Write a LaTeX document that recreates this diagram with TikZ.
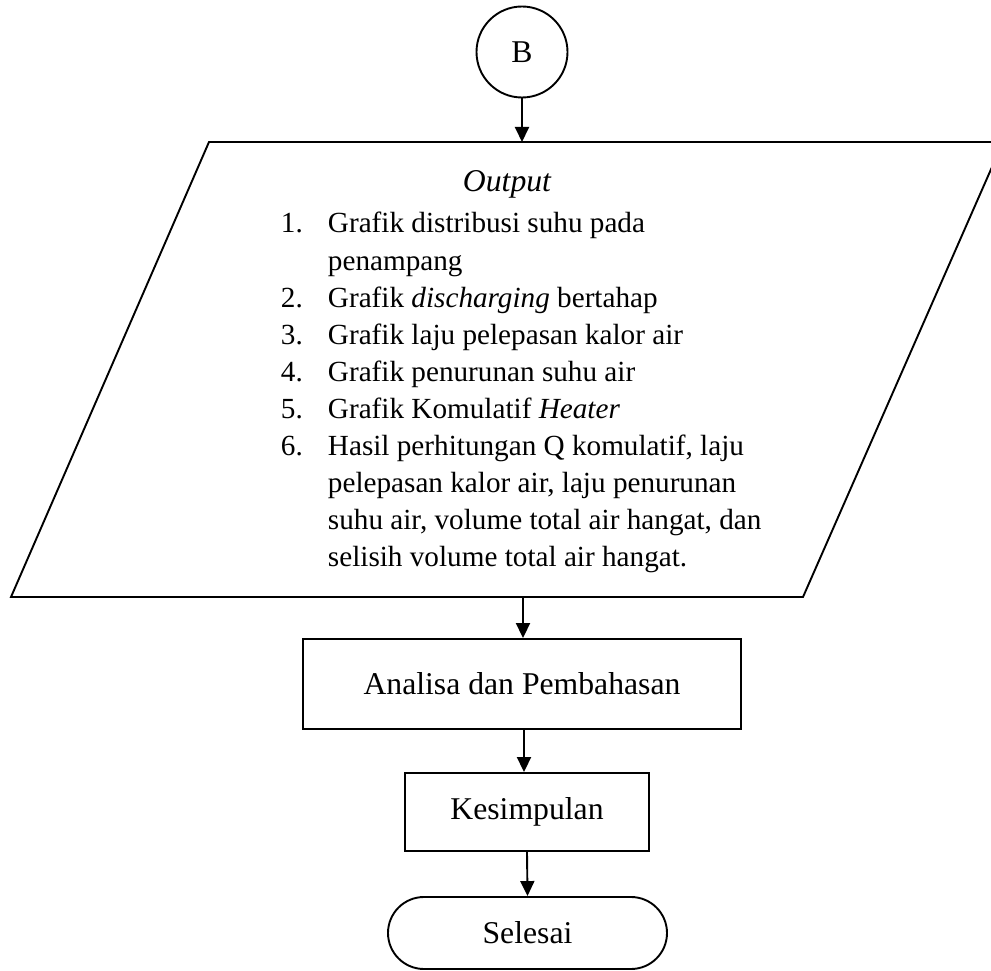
\documentclass[tikz,border=0pt]{standalone}
\usepackage{fontspec}
\setmainfont{Liberation Serif}
\usetikzlibrary{arrows.meta}
\begin{document}
\begin{tikzpicture}[x=1pt,y=-1pt,
  line width=1.9pt,
  arr/.style={-{Triangle[length=15pt,width=14pt]}},
  boxtxt/.style={font=\fontsize{31.7}{38}\selectfont},
  listtxt/.style={font=\fontsize{29.2}{37}\selectfont, inner sep=0pt, anchor=base west},
  procbox/.style={draw, rectangle, boxtxt, inner sep=0pt},
]
\useasboundingbox (0,0) rectangle (991,971);
% connector B
\node[draw, circle, minimum size=91pt, inner sep=0pt, boxtxt] (B) at (522,52) {B};
% parallelogram
\begin{scope}
\clip (0,0) rectangle (991,971);
\draw (209,142) coordinate (pTL) -- (1003,142) coordinate (pTR) -- (803,597) coordinate (pBR) -- (11,597) coordinate (pBL) -- cycle;
\end{scope}
\coordinate (ptop) at (B.south |- pTL);
\coordinate (pbot) at (523,597);
\node[boxtxt, inner sep=0pt, anchor=base] (out) at (507,192) {\itshape Output};
\foreach \yy/\num/\txt [count=\i] in {
  233/1./{Grafik distribusi suhu pada},
  270/{}/{penampang},
  307/2./{Grafik \textit{discharging} bertahap},
  344/3./{Grafik laju pelepasan kalor air},
  381/4./{Grafik penurunan suhu air},
  418/5./{Grafik Komulatif \textit{Heater}},
  455/6./{Hasil perhitungan Q komulatif, laju},
  492/{}/{pelepasan kalor air, laju penurunan},
  529/{}/{suhu air, volume total air hangat, dan},
  566/{}/{selisih volume total air hangat.}}{
  \node[listtxt] (num\i) at (280,\yy) {\num};
  \node[listtxt] (line\i) at (327,\yy) {\txt};
}
% process boxes
\node[procbox, minimum width=438pt, minimum height=90pt] (ana) at (522,684) {Analisa dan Pembahasan};
\node[procbox, minimum width=244pt, minimum height=78pt] (kes) at (527,812) {Kesimpulan};
\node[draw, rectangle, rounded corners=36pt, boxtxt, minimum width=279pt, minimum height=72pt, inner sep=0pt] (sel) at (527.5,933) {Selesai};
% connectors
\draw[arr] (B.south) -- (ptop);
\draw[arr] (pbot) -- (pbot |- ana.north);
\draw[arr] ([xshift=2pt]ana.south) -- ([xshift=2pt]ana.south |- kes.north);
\draw[arr] (kes.south) -- (sel.north);
\end{tikzpicture}
\end{document}
